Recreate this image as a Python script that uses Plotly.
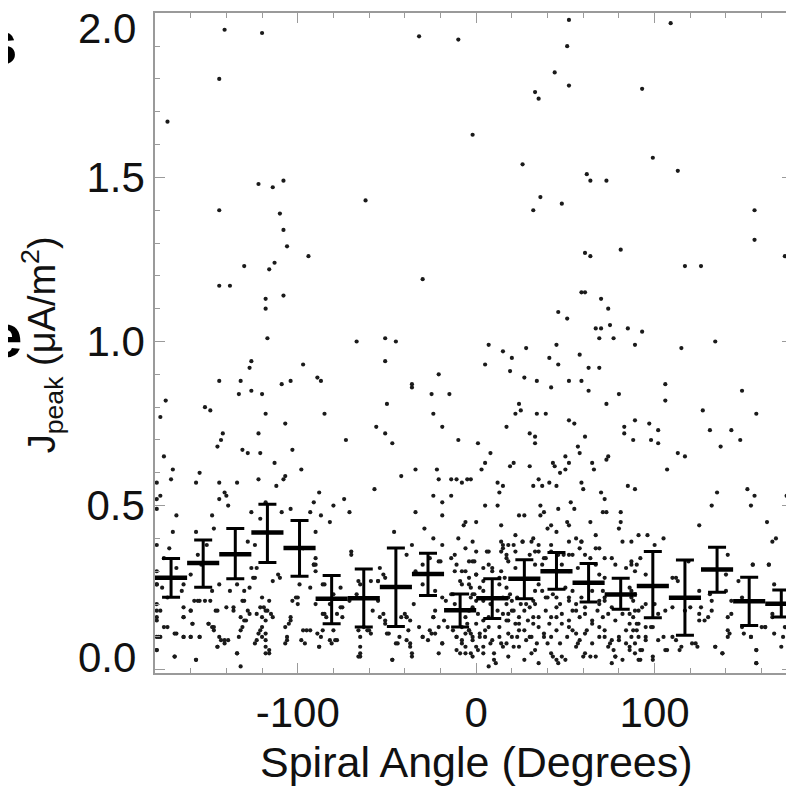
import plotly.graph_objects as go

# Bins of spiral angle (18 deg wide): median and spread of J_peak
bin_center = [-171, -153, -135, -117, -99, -81, -63, -45, -27, -9,
              9, 27, 45, 63, 81, 99, 117, 135, 153, 171]
bin_median = [0.280, 0.325, 0.352, 0.418, 0.371, 0.216, 0.218, 0.252, 0.292, 0.181,
              0.218, 0.277, 0.300, 0.265, 0.229, 0.255, 0.219, 0.305, 0.209, 0.201]
bin_upper = [0.339, 0.395, 0.430, 0.504, 0.455, 0.287, 0.307, 0.371, 0.355, 0.231,
             0.277, 0.335, 0.357, 0.324, 0.279, 0.360, 0.334, 0.373, 0.282, 0.243]
bin_lower = [0.221, 0.251, 0.277, 0.327, 0.285, 0.140, 0.130, 0.132, 0.226, 0.130,
             0.156, 0.216, 0.245, 0.206, 0.184, 0.158, 0.105, 0.236, 0.135, 0.161]

# individual events (angle, J_peak)
events_upper_west = [
    (-141, 1.95), (-120, 1.94), (-144, 1.80), (-173, 1.67), (-122, 1.48), (-114, 1.47),
    (-108, 1.49), (-144, 1.40), (-110, 1.39), (-62, 1.43), (-108, 1.34), (-106, 1.29),
    (-94, 1.26), (-130, 1.23), (-113, 1.24), (-116, 1.22), (-144, 1.17), (-138, 1.17),
    (-108, 1.14), (-118, 1.13), (-118, 1.10), (-117, 1.01), (-67, 1.00), (-51, 1.01),
    (-45, 1.00), (-51, 0.94), (-126, 0.94), (-127, 0.92), (-97, 0.93), (-144, 0.88),
    (-132, 0.88), (-104, 0.88), (-89, 0.89), (-87, 0.88), (-109, 0.87), (-133, 0.84),
    (-126, 0.85), (-120, 0.84),
]
events_upper_east = [
    (-32, 1.93), (-10, 1.92), (52, 1.98), (109, 1.97), (51, 1.90), (44, 1.82), (33, 1.76),
    (35, 1.74), (52, 1.78), (93, 1.77), (-2, 1.63), (26, 1.54), (99, 1.56), (113, 1.52),
    (62, 1.51), (64, 1.49), (73, 1.49), (36, 1.44), (32, 1.40), (48, 1.42), (156, 1.40),
    (156, 1.31), (173, 1.26), (61, 1.27), (64, 1.26), (81, 1.28), (117, 1.23), (126, 1.23),
    (-30, 1.19), (59, 1.15), (61, 1.15), (70, 1.13), (74, 1.10), (46, 1.09), (51, 1.07),
    (67, 1.04), (70, 1.04), (75, 1.05), (85, 1.04), (93, 1.03), (69, 1.01), (77, 1.01),
    (89, 0.99), (115, 0.98), (134, 1.00), (7, 0.99), (15, 0.97), (20, 0.95), (28, 0.98),
    (45, 0.99), (5, 0.93), (19, 0.91), (41, 0.95), (46, 0.93), (58, 0.96), (-21, 0.90),
    (27, 0.89), (34, 0.88), (63, 0.92), (69, 0.92), (52, 0.88), (59, 0.88), (-36, 0.87),
    (-36, 0.86), (42, 0.86), (106, 0.87), (149, 0.85), (-25, 0.84), (-15, 0.84), (63, 0.85),
    (80, 0.84),
]
events_lower_west = [
    (-174, 0.82), (-177, 0.77), (-152, 0.80), (-149, 0.79), (-118, 0.78), (-85, 0.78),
    (-50, 0.81), (-24, 0.78), (-107, 0.75), (-56, 0.74), (-51, 0.72), (-19, 0.74),
    (-175, 0.65), (-142, 0.72), (-143, 0.70), (-145, 0.68), (-122, 0.72), (-131, 0.67),
    (-128, 0.66), (-121, 0.66), (-103, 0.67), (-73, 0.70), (-47, 0.69), (-10, 0.70),
    (-113, 0.63), (-98, 0.61), (-170, 0.61), (-171, 0.58), (-155, 0.60), (-157, 0.57),
    (-144, 0.57), (-134, 0.57), (-122, 0.58), (-107, 0.59), (-108, 0.58), (-112, 0.56),
    (-57, 0.55), (-42, 0.59), (-34, 0.61), (-22, 0.61), (-21, 0.58), (-14, 0.58),
    (-11, 0.58), (-8, 0.57), (-5, 0.58), (-179, 0.57), (-177, 0.53), (-144, 0.52),
    (-141, 0.54), (-140, 0.53), (-139, 0.50), (-118, 0.51), (-109, 0.48), (-104, 0.49),
    (-93, 0.48), (-91, 0.51), (-88, 0.54), (-80, 0.50), (-74, 0.52), (-71, 0.48),
    (-82, 0.45), (-87, 0.47), (-34, 0.48), (-24, 0.53), (-19, 0.51), (-19, 0.47),
    (-14, 0.53), (-7, 0.44), (-179, 0.52), (-179, 0.49), (-168, 0.47), (-148, 0.47),
    (-126, 0.48), (-121, 0.46),
    (-170, 0.42), (-179, 0.38), (-172, 0.37), (-157, 0.42), (-151, 0.38), (-147, 0.43),
    (-128, 0.39), (-124, 0.38), (-97, 0.37), (-90, 0.42), (-90, 0.34), (-91, 0.32),
    (-70, 0.36), (-46, 0.42), (-36, 0.38), (-29, 0.43), (-24, 0.40), (-19, 0.38),
    (-10, 0.40), (-6, 0.37), (-12, 0.35), (-11, 0.32), (-8, 0.30), (-20, 0.33),
    (-26, 0.34), (-30, 0.32), (-34, 0.30), (-54, 0.31), (-51, 0.28), (-55, 0.27),
    (-66, 0.27), (-67, 0.23), (-80, 0.23), (-86, 0.26), (-90, 0.30), (-93, 0.25),
    (-110, 0.28), (-114, 0.27), (-126, 0.31), (-125, 0.28), (-130, 0.24), (-134, 0.26),
    (-138, 0.24), (-144, 0.26), (-148, 0.24), (-154, 0.32), (-156, 0.35), (-160, 0.29),
    (-164, 0.26), (-165, 0.24), (-175, 0.34), (-179, 0.30), (-179, 0.26), (-176, 0.25),
    (-168, 0.31), (-173, 0.22),
    (-179, 0.20), (-177, 0.18), (-179, 0.16), (-175, 0.13), (-179, 0.10), (-177, 0.10),
    (-179, 0.06), (-168, 0.11), (-164, 0.10), (-160, 0.10), (-155, 0.10), (-169, 0.04),
    (-157, 0.03), (-164, 0.16), (-159, 0.14), (-160, 0.18), (-156, 0.21), (-152, 0.21),
    (-150, 0.14), (-148, 0.13), (-147, 0.12), (-145, 0.07), (-141, 0.08), (-143, 0.09),
    (-146, 0.18), (-140, 0.19), (-136, 0.18), (-134, 0.05), (-132, 0.01), (-133, 0.10),
    (-131, 0.13), (-129, 0.15), (-128, 0.18), (-130, 0.21), (-124, 0.08), (-122, 0.11),
    (-120, 0.13), (-120, 0.16), (-119, 0.19), (-117, 0.18), (-120, 0.22), (-114, 0.16),
    (-116, 0.05), (-118, 0.05), (-120, 0.10), (-118, 0.09), (-107, 0.13), (-105, 0.14),
    (-106, 0.09), (-107, 0.08), (-104, 0.16), (-101, 0.22), (-100, 0.20), (-97, 0.12),
    (-96, 0.08), (-93, 0.12), (-88, 0.07), (-87, 0.10), (-85, 0.17), (-82, 0.20),
    (-80, 0.12), (-78, 0.09), (-81, 0.08), (-84, 0.16), (-78, 0.17), (-75, 0.19),
    (-71, 0.21), (-66, 0.12), (-65, 0.05), (-66, 0.04), (-63, 0.13), (-60, 0.12),
    (-58, 0.18), (-55, 0.21), (-52, 0.17), (-51, 0.14), (-49, 0.11), (-47, 0.03),
    (-45, 0.08), (-43, 0.10), (-42, 0.16), (-40, 0.17), (-39, 0.16), (-37, 0.08),
    (-36, 0.04), (-38, 0.12), (-32, 0.13), (-30, 0.10), (-27, 0.09), (-25, 0.11),
    (-24, 0.16), (-23, 0.18), (-21, 0.13), (-19, 0.08), (-16, 0.13), (-13, 0.12),
    (-11, 0.10), (-8, 0.08), (-6, 0.07), (-9, 0.05), (-5, 0.14), (-4, 0.12),
    (-17, 0.21), (-14, 0.23), (-12, 0.20),
]
events_dense_west = [
    (-179, 0.26), (-164, 0.19), (-160, 0.18), (-158, 0.21), (-155, 0.21), (-149, 0.21),
    (-145, 0.18), (-136, 0.19), (-131, 0.21), (-127, 0.25), (-124, 0.28), (-123, 0.31),
    (-111, 0.29), (-99, 0.26), (-103, 0.21), (-100, 0.22), (-90, 0.32), (-90, 0.20),
    (-179, 0.18), (-179, 0.15), (-173, 0.13), (-169, 0.11), (-164, 0.16), (-159, 0.14),
    (-150, 0.14), (-147, 0.13), (-132, 0.16), (-130, 0.15), (-127, 0.17), (-123, 0.17),
    (-118, 0.18), (-116, 0.21), (-121, 0.19), (-115, 0.17), (-118, 0.15), (-132, 0.12),
    (-121, 0.12), (-118, 0.11), (-123, 0.09), (-144, 0.10), (-141, 0.09), (-139, 0.09),
    (-160, 0.10), (-155, 0.10), (-164, 0.10), (-178, 0.10), (-179, 0.06), (-169, 0.04),
    (-157, 0.03), (-145, 0.07), (-134, 0.05), (-118, 0.07), (-116, 0.06), (-106, 0.10),
    (-104, 0.15), (-95, 0.12), (-98, 0.09), (-89, 0.11),
    (-91, 0.32), (-70, 0.35), (-39, 0.35), (-21, 0.33), (-14, 0.34), (-4, 0.33),
    (0, 0.29), (-12, 0.30), (-85, 0.26), (-76, 0.25), (-65, 0.26), (-59, 0.27),
    (-55, 0.27), (-52, 0.29), (-30, 0.26), (-23, 0.24), (-19, 0.22), (-13, 0.23),
    (-4, 0.26), (-2, 0.23), (-35, 0.20), (-76, 0.19), (-86, 0.17), (-75, 0.16),
    (-54, 0.16), (-51, 0.15), (-39, 0.16), (-37, 0.15), (-24, 0.16), (-18, 0.15),
    (-6, 0.16), (-4, 0.12), (-86, 0.12), (-82, 0.09), (-79, 0.09), (-65, 0.10),
    (-61, 0.12), (-59, 0.11), (-50, 0.11), (-44, 0.08), (-39, 0.09), (-37, 0.07),
    (-30, 0.10), (-26, 0.12), (-23, 0.11), (-19, 0.08), (-11, 0.10), (-8, 0.09),
    (-2, 0.10), (-88, 0.07), (-65, 0.07), (-65, 0.04), (-47, 0.03), (-36, 0.05),
    (-21, 0.05), (-11, 0.06), (-6, 0.05), (0, 0.07),
]
events_lower_east = [
    (24, 0.81), (25, 0.79), (22, 0.78), (34, 0.78), (39, 0.78), (73, 0.81), (106, 0.82),
    (127, 0.79), (157, 0.78), (17, 0.74), (30, 0.72), (33, 0.71), (33, 0.69), (1, 0.69),
    (52, 0.76), (55, 0.75), (61, 0.71), (57, 0.68), (58, 0.66), (50, 0.65), (52, 0.63),
    (50, 0.61), (47, 0.60), (43, 0.63), (44, 0.62), (65, 0.63), (66, 0.61), (74, 0.65),
    (73, 0.64), (83, 0.74), (89, 0.76), (83, 0.72), (97, 0.75), (102, 0.73), (98, 0.70),
    (102, 0.69), (88, 0.70), (131, 0.73), (143, 0.73), (148, 0.70), (137, 0.68),
    (113, 0.66), (117, 0.65), (107, 0.61), (5, 0.63), (8, 0.66), (3, 0.61), (19, 0.62),
    (21, 0.63), (30, 0.62), (-3, 0.58), (12, 0.57), (13, 0.54), (15, 0.56), (32, 0.56),
    (35, 0.58), (37, 0.56), (41, 0.57), (45, 0.56), (59, 0.57), (60, 0.55), (85, 0.56),
    (89, 0.55), (70, 0.54), (135, 0.54), (152, 0.55), (156, 0.53), (174, 0.53),
    (5, 0.50), (12, 0.50), (24, 0.47), (27, 0.47), (36, 0.50), (38, 0.48), (36, 0.47),
    (46, 0.49), (53, 0.51), (55, 0.49), (51, 0.45), (52, 0.44), (42, 0.44), (40, 0.43),
    (45, 0.42), (72, 0.52), (71, 0.48), (73, 0.48), (81, 0.48), (81, 0.45), (80, 0.43),
    (64, 0.45), (56, 0.40), (59, 0.39), (67, 0.41), (69, 0.37), (91, 0.41), (96, 0.41),
    (100, 0.38), (105, 0.40), (125, 0.44), (132, 0.50), (154, 0.50), (163, 0.45),
    (166, 0.39), (168, 0.40), (175, 0.49), (0, 0.45), (-6, 0.45), (-2, 0.39), (14, 0.44),
    (22, 0.41), (21, 0.38), (26, 0.39), (32, 0.40), (35, 0.38), (15, 0.38), (14, 0.36),
    (17, 0.34), (6, 0.36), (7, 0.32), (-1, 0.33), (-9, 0.27), (-6, 0.30), (9, 0.30),
    (13, 0.28), (22, 0.31), (30, 0.35), (33, 0.36), (38, 0.34), (42, 0.36), (46, 0.35),
    (52, 0.35), (64, 0.34), (72, 0.34), (78, 0.32), (87, 0.33), (92, 0.34), (110, 0.28),
    (113, 0.27), (119, 0.33), (141, 0.35), (155, 0.32), (164, 0.32), (176, 0.30),
    (147, 0.27), (140, 0.29), (125, 0.24), (131, 0.23), (132, 0.21), (140, 0.24),
    (149, 0.22),
    (-8, 0.26), (-4, 0.28), (-3, 0.22), (2, 0.25), (4, 0.21), (8, 0.20), (-4, 0.18),
    (-8, 0.13), (-6, 0.11), (-2, 0.09), (2, 0.11), (1, 0.06), (-3, 0.05), (5, 0.10),
    (8, 0.08), (10, 0.05), (11, 0.02), (14, 0.08), (13, 0.13), (17, 0.15), (18, 0.17),
    (21, 0.18), (17, 0.20), (15, 0.22), (19, 0.23), (23, 0.22), (25, 0.20), (28, 0.20),
    (32, 0.21), (37, 0.24), (40, 0.22), (45, 0.22), (47, 0.20), (52, 0.22), (54, 0.18),
    (56, 0.20), (59, 0.22), (65, 0.24), (69, 0.21), (72, 0.21), (76, 0.19), (87, 0.22),
    (91, 0.18), (95, 0.20), (100, 0.20), (102, 0.17), (106, 0.18), (110, 0.19),
    (24, 0.14), (27, 0.12), (30, 0.10), (23, 0.10), (21, 0.07), (18, 0.11), (32, 0.16),
    (35, 0.13), (38, 0.10), (40, 0.08), (42, 0.05), (45, 0.03), (50, 0.03), (45, 0.16),
    (48, 0.14), (52, 0.13), (56, 0.11), (57, 0.08), (60, 0.04), (64, 0.04), (62, 0.12),
    (65, 0.15), (69, 0.13), (72, 0.10), (75, 0.08), (77, 0.06), (78, 0.04), (80, 0.09),
    (84, 0.12), (86, 0.07), (91, 0.03), (92, 0.06), (95, 0.10), (99, 0.13), (99, 0.04),
    (102, 0.09), (106, 0.06), (110, 0.10), (114, 0.06), (121, 0.08), (124, 0.07),
    (125, 0.17), (128, 0.15), (132, 0.18), (134, 0.07), (138, 0.05), (141, 0.10),
    (142, 0.11), (143, 0.17), (150, 0.11), (154, 0.10), (157, 0.06), (157, 0.02),
    (160, 0.13), (162, 0.13), (166, 0.16), (171, 0.07), (172, 0.10), (175, 0.12),
    (177, 0.17),
]
events_dense_east = [
    (14, 0.39), (15, 0.37), (18, 0.38), (26, 0.39), (31, 0.39), (42, 0.38), (52, 0.39),
    (58, 0.37), (59, 0.39), (67, 0.37), (76, 0.34), (82, 0.39), (87, 0.39), (35, 0.36),
    (39, 0.34), (49, 0.35), (54, 0.35), (61, 0.35), (0, 0.36), (7, 0.36), (17, 0.35),
    (22, 0.36), (-2, 0.33), (4, 0.31), (9, 0.31), (14, 0.30), (18, 0.33), (16, 0.28),
    (4, 0.27), (0, 0.29), (33, 0.32), (37, 0.32), (48, 0.32), (52, 0.30), (57, 0.31),
    (69, 0.29), (72, 0.28), (84, 0.31), (89, 0.30), (67, 0.32), (-3, 0.25), (-1, 0.23),
    (0, 0.21), (4, 0.24), (13, 0.26), (17, 0.25), (18, 0.22), (20, 0.21), (33, 0.24),
    (35, 0.26), (39, 0.22), (43, 0.23), (50, 0.25), (54, 0.24), (52, 0.21), (71, 0.24),
    (72, 0.22), (86, 0.25), (89, 0.23), (69, 0.20), (61, 0.19), (33, 0.20), (30, 0.19),
    (-2, 0.19), (1, 0.17), (4, 0.15), (7, 0.16), (12, 0.18), (15, 0.17), (18, 0.15),
    (20, 0.18), (24, 0.16), (27, 0.18), (29, 0.15), (32, 0.14), (35, 0.16), (39, 0.18),
    (42, 0.16), (45, 0.19), (48, 0.17), (52, 0.15), (56, 0.18), (58, 0.16), (61, 0.17),
    (65, 0.14), (68, 0.18), (71, 0.16), (74, 0.17), (78, 0.15), (82, 0.17), (86, 0.14),
    (89, 0.18), (88, 0.16), (41, 0.14), (22, 0.14), (7, 0.13), (0, 0.14), (-3, 0.11),
    (2, 0.10), (5, 0.12), (9, 0.09), (13, 0.10), (17, 0.08), (20, 0.10), (24, 0.12),
    (28, 0.09), (31, 0.10), (34, 0.08), (38, 0.11), (42, 0.10), (45, 0.12), (47, 0.08),
    (51, 0.10), (54, 0.12), (58, 0.09), (61, 0.11), (65, 0.08), (69, 0.10), (72, 0.12),
    (76, 0.09), (80, 0.10), (84, 0.08), (87, 0.10), (90, 0.12), (33, 0.06), (24, 0.07),
    (15, 0.07), (4, 0.07), (56, 0.07), (74, 0.07), (86, 0.06), (-2, 0.04), (4, 0.05),
    (10, 0.03), (18, 0.04), (27, 0.03), (31, 0.05), (43, 0.04), (48, 0.04), (61, 0.05),
    (67, 0.04), (78, 0.04), (82, 0.03), (89, 0.05), (46, 0.02), (76, 0.02), (35, 0.02),
    (7, 0.01),
    (87, 0.32), (90, 0.32), (95, 0.29), (112, 0.28), (117, 0.18), (120, 0.19), (126, 0.19),
    (130, 0.16), (125, 0.15), (87, 0.24), (88, 0.21), (93, 0.19), (86, 0.17), (91, 0.14),
    (95, 0.13), (98, 0.13), (88, 0.12), (91, 0.10), (95, 0.09), (89, 0.08), (93, 0.06),
    (105, 0.10), (107, 0.06), (112, 0.09), (115, 0.07), (123, 0.08), (134, 0.07),
    (138, 0.05), (141, 0.12), (143, 0.21), (141, 0.16), (149, 0.13), (154, 0.10),
    (157, 0.06), (157, 0.02), (162, 0.13), (167, 0.11), (173, 0.13), (175, 0.16),
    (166, 0.17), (167, 0.26), (177, 0.29), (155, 0.32), (164, 0.32), (175, 0.31),
    (92, 0.03), (99, 0.03), (90, 0.14),
]

x_tickvals = [-100, 0, 100]
x_ticktext = ['-100', '0', '100']
y_tickvals = [0.0, 0.5, 1.0, 1.5, 2.0]
y_ticktext = ['', '0.5', '1.0', '1.5', '']  # 0.0 y 2.0 van como anotaciones (desplazadas)

events = (events_upper_west + events_upper_east + events_lower_west + events_dense_west
          + events_lower_east + events_dense_east)
angle = [p[0] for p in events]
jpeak = [p[1] for p in events]

fig = go.Figure()

# nube de eventos
fig.add_trace(go.Scatter(
    x=angle, y=jpeak, mode='markers',
    marker=dict(color='#1a1a1a', size=4.2),
    showlegend=False
))

# medianas por bin con barras de error
fig.add_trace(go.Scatter(
    x=bin_center, y=bin_median, mode='markers',
    marker=dict(color='black', size=1),
    error_x=dict(type='constant', value=9, width=0, thickness=4.5, color='black'),
    error_y=dict(type='data', symmetric=False,
                 array=[u - m for u, m in zip(bin_upper, bin_median)],
                 arrayminus=[m - l for m, l in zip(bin_median, bin_lower)],
                 width=9, thickness=3, color='black'),
    showlegend=False
))

axis_style = dict(
    showline=True, linecolor='#9a9a9a', linewidth=1.5, mirror='allticks',
    ticks='inside', ticklen=10, tickcolor='#9a9a9a', tickwidth=1.2,
    showgrid=False, zeroline=False,
    tickfont=dict(family='Liberation Sans', size=42, color='#111111'),
)

# la pagina tiene 8 px de margen en body: se compensa en los margenes
fig.update_layout(
    width=786, height=785,
    margin=dict(l=147, r=0, t=5, b=120),
    paper_bgcolor='white', plot_bgcolor='white',
    xaxis=dict(range=[-180, 177], tickmode='array', tickvals=x_tickvals, ticktext=x_ticktext,
               minor=dict(dtick=20, tick0=0, ticks='inside', ticklen=5,
                          tickcolor='#9a9a9a', tickwidth=1),
               ticklabelstandoff=2, **axis_style),
    yaxis=dict(range=[-0.01, 2.001], tickmode='array', tickvals=y_tickvals, ticktext=y_ticktext,
               minor=dict(dtick=0.1, tick0=0, ticks='inside', ticklen=5,
                          tickcolor='#9a9a9a', tickwidth=1),
               ticklabelstandoff=0, **axis_style),
)

tick_font = dict(family='Liberation Sans', size=42, color='#111111')
fig.add_annotation(text='2.0', xref='paper', yref='paper', x=-0.027, y=0.977,
                   xanchor='right', yanchor='middle', showarrow=False, font=tick_font)
fig.add_annotation(text='0.0', xref='paper', yref='paper', x=-0.027, y=0.024,
                   xanchor='right', yanchor='middle', showarrow=False, font=tick_font)

# titulos de ejes
fig.add_annotation(
    text='Spiral Angle (Degrees)', xref='x', yref='paper', x=0, y=-0.135,
    xanchor='center', yanchor='middle', showarrow=False,
    font=dict(family='Liberation Sans', size=43, color='#111111')
)
fig.add_annotation(
    text='J<sub>peak</sub> (\u03bcA/m<sup>2</sup>)', xref='paper', yref='paper',
    x=-0.177, y=0.497, xanchor='center', yanchor='middle', textangle=-90,
    showarrow=False, font=dict(family='Liberation Sans', size=38, color='#111111')
)

# restos de texto del panel vecino, cortados en el borde
fig.add_annotation(
    text='<b>s</b>', xref='paper', yref='paper', x=-0.214, y=0.956,
    xanchor='right', yanchor='middle', showarrow=False,
    font=dict(family='Liberation Sans', size=62, color='black')
)
fig.add_annotation(
    text='<b>e</b>', xref='paper', yref='paper', x=-0.205, y=0.512,
    xanchor='right', yanchor='middle', showarrow=False,
    font=dict(family='Liberation Sans', size=62, color='black')
)

fig.write_html("out.html")
